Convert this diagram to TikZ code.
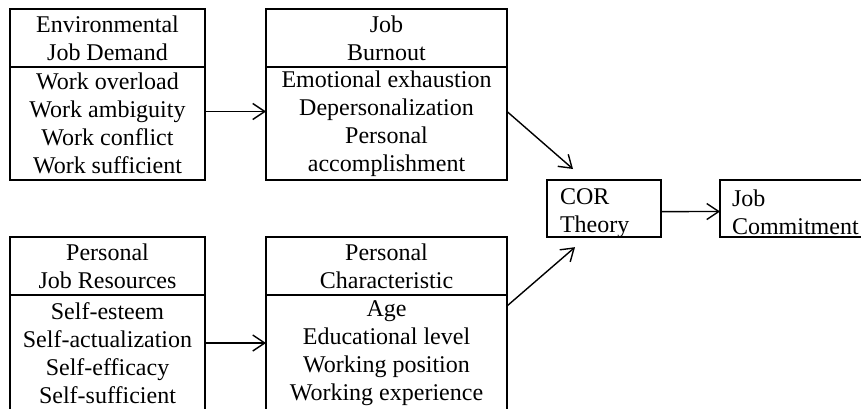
\documentclass[tikz,border=0pt]{standalone}
\usepackage{fontspec}
\setmainfont{Liberation Serif}
\usetikzlibrary{positioning,arrows.meta}

\begin{document}
\begin{tikzpicture}[x=0.5pt,y=0.5pt,line width=0.7pt,
    every node/.style={font=\fontsize{12}{14}\selectfont, outer sep=0pt},
    head/.style={draw, minimum height=29pt, inner ysep=0pt, align=center},
    body/.style={draw, inner ysep=0pt, align=center},
    card/.style={draw, anchor=north west, minimum height=28.5pt, inner xsep=6.5pt, inner ysep=0pt, align=left, execute at begin node={\rule{0pt}{12pt}}},
    arr/.style={->, >={Straight Barb[length=6pt,width=8pt]}}]

    \clip (0,0) rectangle (861,408);

    \node [head, anchor=north west, minimum width=97.5pt] (dh) at (10,399) {Environmental\\Job Demand};
    \node [body, minimum width=97.5pt, minimum height=56.5pt, below=0pt of dh] (db) {Work overload\\Work ambiguity\\Work conflict\\Work sufficient};

    \node [head, anchor=north west, minimum width=120.5pt] (bh) at (266,399) {Job\\Burnout};
    \node [body, minimum width=120.5pt, minimum height=56.5pt, below=0pt of bh] (bb) {Emotional exhaustion\\Depersonalization\\Personal\\accomplishment};

    \node [head, anchor=north west, minimum width=97.5pt] (rh) at (10,171) {Personal\\Job Resources};
    \node [body, minimum width=97.5pt, minimum height=58pt, below=0pt of rh] (rb) {Self-esteem\\Self-actualization\\Self-efficacy\\Self-sufficient};

    \node [head, anchor=north west, minimum width=120.5pt] (ch) at (266,171) {Personal\\Characteristic};
    \node [body, minimum width=120.5pt, minimum height=58pt, below=0pt of ch] (cb) {Age\\Educational level\\Working position\\Working experience};

    \node [card, text width=44pt] (cor) at (547,228) {COR\\Theory};
    \node [card, inner xsep=6pt, text width=75pt] (jc) at (720,228) {Job\\Commitment};

    \draw [arr] ([yshift=6pt]db.east) -- ([yshift=6pt]bb.west);
    \draw [arr] ([yshift=5pt]rb.east) -- ([yshift=5pt]cb.west);

    \draw [arr] ([yshift=6pt]bb.east) -- ([xshift=-15.5pt,yshift=5.5pt]cor.north);
    \draw [arr] ([yshift=-5.5pt]cb.north east) -- ([xshift=-14.5pt,yshift=-5pt]cor.south);

    \draw [arr] ([yshift=-1.5pt]cor.east) -- ([yshift=-1.5pt]jc.west);

\end{tikzpicture}
\end{document}
